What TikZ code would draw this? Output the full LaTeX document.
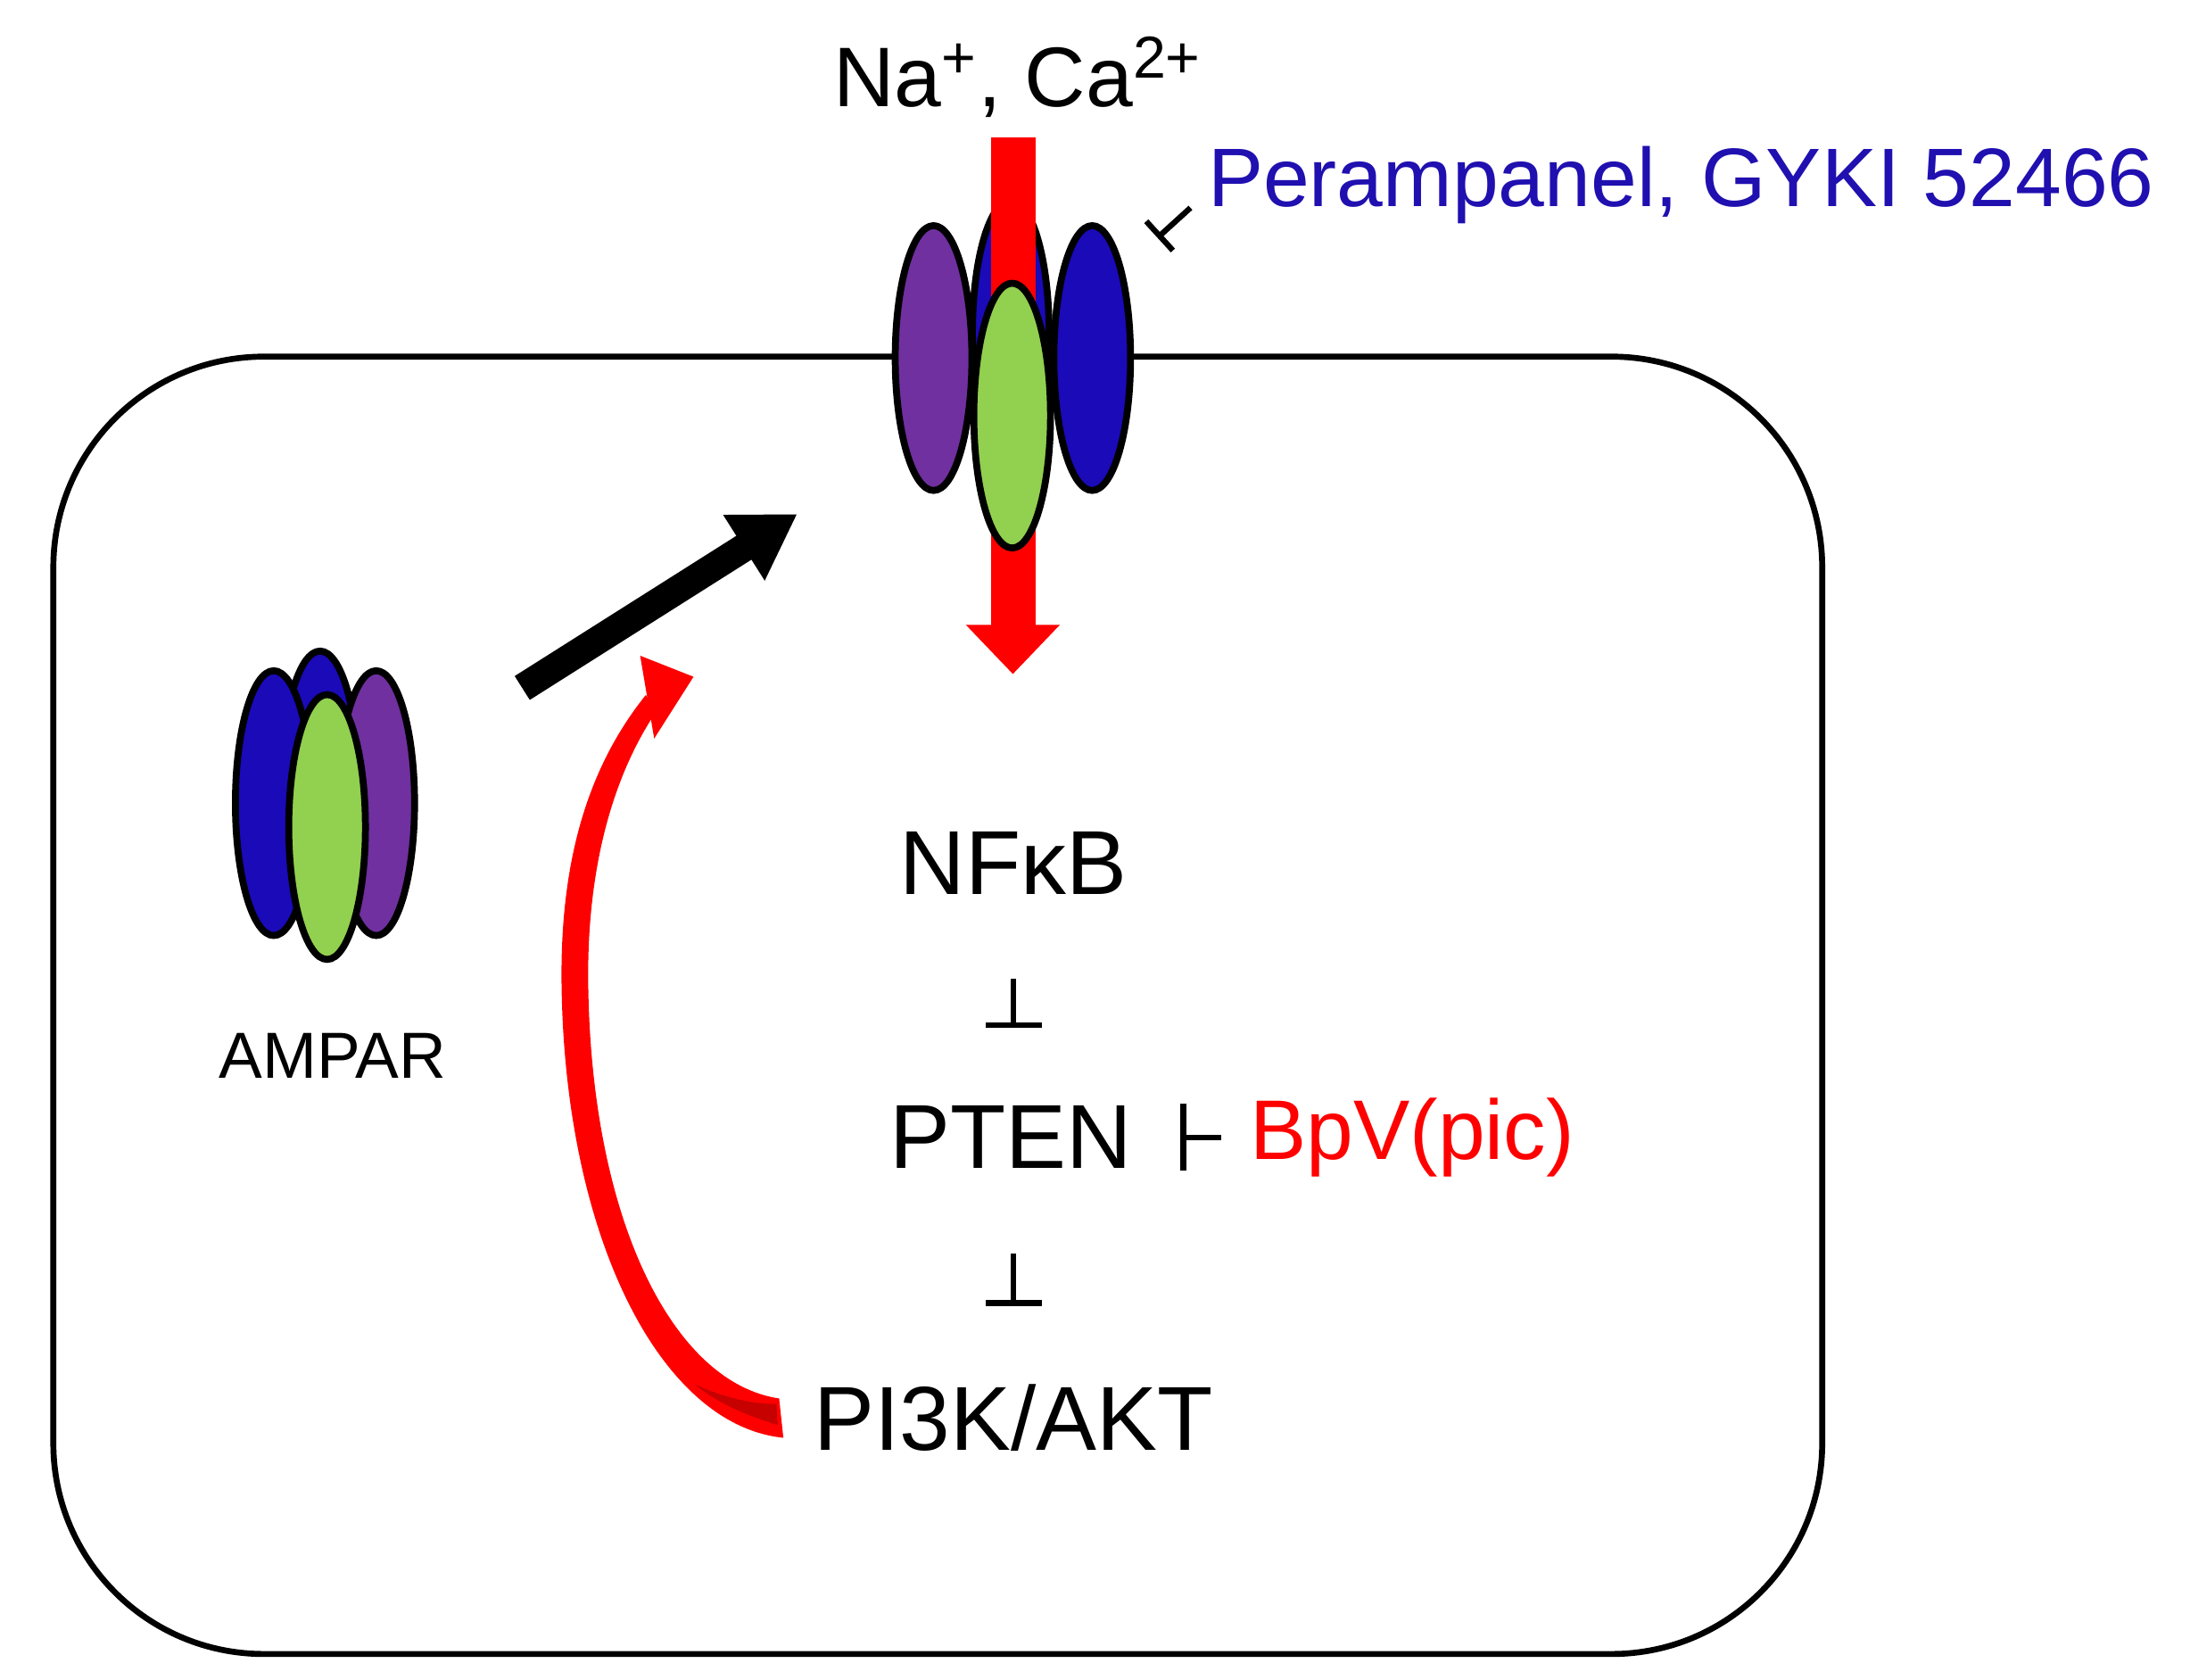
\documentclass[tikz,border=0pt]{standalone}
\usepackage{fontspec}
\setmainfont{Liberation Sans}
\usetikzlibrary{shapes.geometric,arrows.meta}
\definecolor{rblue}{HTML}{1A0AB8}
\definecolor{rpurple}{HTML}{7030A0}
\definecolor{rgreen}{HTML}{92D050}
\definecolor{rred}{HTML}{FF0000}
\definecolor{tblue}{HTML}{2010B0}
\tikzset{
  sub/.style={ellipse,draw=black,line width=2.2pt,inner sep=0pt,minimum width=0.86cm,minimum height=2.97cm},
  lab/.style={inner sep=0pt,font=\fontsize{29}{32}\selectfont},
  inh/.style={line width=1.8pt}
}
\begin{document}
\begin{tikzpicture}[x=0.01574cm,y=-0.01574cm]
\useasboundingbox (0,0) rectangle (1560,1196);
% cell
\draw[line width=1.9pt,rounded corners=150*0.01574cm] (38,254) rectangle (1298,1178);
% top receptor
\node[sub,fill=rblue] (tb) at (720,237) {};
\fill[rred] (706,98) rectangle (738,447);
\fill[rred] (688,445) -- (755,445) -- (721.5,480) -- cycle;
\node[sub,fill=rpurple] (tp) at (665,255) {};
\node[sub,fill=rblue] (tr) at (778,255) {};
\node[sub,fill=rgreen] (tg) at (721,296) {};
% label top
\node[lab,font=\fontsize{27}{30}\selectfont] (ions) at (725,55) {Na\textsuperscript{+}, Ca\textsuperscript{2+}};
\node[lab,anchor=west,text=tblue,font=\fontsize{26.5}{30}\selectfont] (per) at (860,132) {Perampanel, GYKI 52466};
\coordinate (ts) at (848,148);
\coordinate (tc) at (826,168);
\draw[inh] (ts) -- (tc);
\draw[inh] (816.5,157.6) -- (835.5,178.4);
% left AMPAR
\node[sub,fill=rblue] (lb) at (228,558) {};
\node[sub,fill=rblue] (ll) at (195,572) {};
\node[sub,fill=rpurple] (lr) at (268,572) {};
\node[sub,fill=rgreen] (lg) at (233,589) {};
\node[lab,font=\fontsize{20.8}{24}\selectfont] (ampar) at (237,752) {AMPAR};
% black arrow
\coordinate (ba1) at (372,490);
\coordinate (ba2) at (568,366);
\draw[line width=9pt,-{Triangle[length=0.71cm,width=0.82cm]}] (ba1) -- (ba2);
% cascade
\node[lab] (nf) at (722,615) {NFκB};
\node[lab] (pten) at (720,810) {PTEN};
\node[lab] (pi3k) at (722,1010) {PI3K/AKT};
\node[lab,anchor=west,text=rred,font=\fontsize{27}{30}\selectfont] (bpv) at (890,810) {BpV(pic)};
\draw[inh] (722,697) -- (722,730) (702,730) -- (742,730);
\draw[inh] (722,893) -- (722,928) (702,928) -- (742,928);
\draw[inh] (843,786) -- (843,834) (843,810) -- (870,810);
% red curved arrow
\fill[rred] (558,1024) .. controls (470,1015) and (402,880) .. (400,700)
  .. controls (399,610) and (420,545) .. (460,495)
  -- (468,506) .. controls (438,550) and (418,615) .. (419,700)
  .. controls (421,870) and (480,985) .. (555,996) -- cycle;
\fill[rred!78!black] (553,1000) .. controls (535,1000) and (515,995) .. (495,986)
  .. controls (512,1000) and (532,1008) .. (554,1015) -- cycle;
\fill[rred] (456,467) -- (494,482) -- (466,526) -- cycle;
\end{tikzpicture}
\end{document}
